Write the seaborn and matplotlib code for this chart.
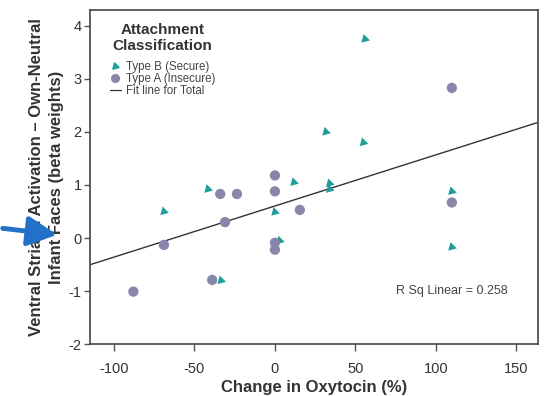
import numpy as np
import pandas as pd
import matplotlib
matplotlib.use("Agg")
import matplotlib.pyplot as plt
from matplotlib.lines import Line2D
from matplotlib.patches import FancyArrowPatch
import seaborn as sns

# Oxytocin change (%) and ventral striatal beta weights per mother
secure_x = [56, 110, 110, 55, 31.7, 11.8, 34, 34, -41.6, 0, -69, 3, -33.5]
secure_y = [3.75, 0.88, -0.17, 1.8, 2.0, 1.05, 1.03, 0.92, 0.92, 0.49, 0.5, -0.05, -0.8]
insecure_x = [110, 110, 0, -34, -23.6, 0, 15.5, -31, -69, 0, 0, -39, -88]
insecure_y = [2.83, 0.67, 1.18, 0.83, 0.83, 0.88, 0.53, 0.3, -0.13, -0.09, -0.22, -0.79, -1.01]
groups = ["Type B (Secure)", "Type A (Insecure)"]
r_sq_text = "R Sq Linear = 0.258"
x_ticks = [-100, -50, 0, 50, 100, 150]
y_ticks = [-2, -1, 0, 1, 2, 3, 4]

df = pd.DataFrame({
    "oxt": secure_x + insecure_x,
    "beta": secure_y + insecure_y,
    "group": [groups[0]] * len(secure_x) + [groups[1]] * len(insecure_x),
})

sns.set_theme(style="white")
plt.rcParams["font.family"] = ["Liberation Sans", "DejaVu Sans"]
plt.rcParams["axes.unicode_minus"] = False

teal = "#1f9f9a"
lilac = "#8886aa"
tri = (3, 0, 135)

fig = plt.figure(figsize=(5.45, 3.96), dpi=100)
ax = fig.add_axes([0.165, 0.131, 0.822, 0.844])
ax.set_xlim(-115, 163.5)
ax.set_ylim(-2, 4.3)

sns.regplot(data=df, x="oxt", y="beta", scatter=False, ci=None, truncate=False,
            line_kws={"color": "#333333", "lw": 1.0, "zorder": 2}, ax=ax)

sns.scatterplot(data=df, x="oxt", y="beta", hue="group", style="group",
                palette={groups[0]: teal, groups[1]: lilac},
                markers={groups[0]: tri, groups[1]: "o"},
                s=55, edgecolor="none", legend=False, ax=ax, zorder=3)

ax.set_xlim(-115, 163.5)
ax.set_ylim(-2, 4.3)
ax.set_xticks(x_ticks)
ax.set_yticks(y_ticks)
ax.tick_params(axis="both", which="major", direction="out", length=4, width=1,
               color="#555555", labelsize=10.5, labelcolor="#333333",
               bottom=True, left=True)
ax.tick_params(axis="x", pad=8, length=5)
ax.tick_params(axis="y", pad=2)
for s in ax.spines.values():
    s.set_color("#444444")
    s.set_linewidth(1.2)

ax.set_xlabel("Change in Oxytocin (%)", fontsize=12, fontweight="bold",
              color="#333333", labelpad=3)
ax.set_ylabel("Ventral Striatal Activation \u2013 Own-Neutral\nInfant Faces (beta weights)",
              fontsize=12, fontweight="bold", color="#333333", labelpad=3.5,
              linespacing=1.4)

ax.text(110, -1.0, r_sq_text, fontsize=9, color="#444444", ha="center", va="center")

handles = [
    Line2D([], [], marker=tri, ls="none", color=teal, markersize=5.5),
    Line2D([], [], marker="o", ls="none", color=lilac, markersize=5.5),
    Line2D([], [], color="#333333", lw=0.9),
]
leg = ax.legend(handles, groups + ["Fit line for Total"],
                title="Attachment\nClassification", loc="upper left",
                bbox_to_anchor=(0.026, 0.985), frameon=False, fontsize=8.3,
                title_fontsize=11, handlelength=1.0, handletextpad=0.4,
                labelspacing=0.0, borderaxespad=0.3)
title = leg.get_title()
title.set_fontweight("bold")
title.set_color("#333333")
title.set_linespacing(1.15)
title.set_multialignment("center")
leg._legend_box.sep = 6
for t in leg.get_texts():
    t.set_color("#444444")

# Pointer arrow toward the vertical axis title
fig.add_artist(FancyArrowPatch(
    (0, 168), (60, 161), transform=None,
    arrowstyle="-|>,head_length=12,head_width=6",
    color="#2370c8", lw=3.5, mutation_scale=1.5))

fig.savefig("out.png", dpi=100)
